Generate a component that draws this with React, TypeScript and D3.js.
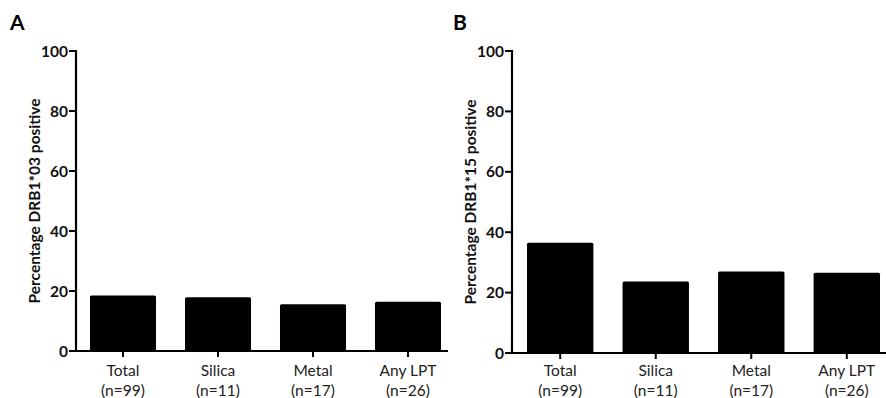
import React from "react";
import * as d3 from "d3";

const categories = ["Total", "Silica", "Metal", "Any LPT"];
const groupSizes = ["(n=99)", "(n=11)", "(n=17)", "(n=26)"];
const drb103Values = [18.5, 17.9, 15.6, 16.4];
const drb115Values = [36.5, 23.7, 27.0, 26.6];
const yTicks = [0, 20, 40, 60, 80, 100];

const FONT = "Lato, 'Open Sans', 'Liberation Sans', sans-serif";

type PanelProps = {
  letter: string;
  letterX: number;
  title: string;
  titleX: number;
  axisX: number;
  axisEnd: number;
  bandRange: [number, number];
  yTop: number;
  yBase: number;
  values: number[];
};

function Panel(p: PanelProps) {
  const y = d3.scaleLinear().domain([0, 100]).range([p.yBase, p.yTop]);
  const x = d3
    .scaleBand<string>()
    .domain(categories)
    .range(p.bandRange)
    .paddingInner(0.305)
    .paddingOuter(0);
  const bw = x.bandwidth();
  const midY = (p.yTop + p.yBase) / 2;

  return (
    <g>
      <text x={p.letterX} y={30} fontFamily={FONT} fontWeight={700} fontSize={21} fill="#000">
        {p.letter}
      </text>
      {categories.map((c, i) => (
        <rect
          key={c}
          x={x(c)!}
          y={y(p.values[i])}
          width={bw}
          height={y(0) - y(p.values[i])}
          fill="#000"
          rx={1.5}
        />
      ))}
      {/* y axis */}
      <line x1={p.axisX} x2={p.axisX} y1={p.yTop - 1} y2={p.yBase + 1} stroke="#000" strokeWidth={2.2} />
      {yTicks.map((t) => (
        <g key={t}>
          <line x1={p.axisX - 7} x2={p.axisX} y1={y(t)} y2={y(t)} stroke="#000" strokeWidth={2} />
          <text
            x={p.axisX - 8}
            y={y(t)}
            dy="0.36em"
            textAnchor="end"
            fontFamily={FONT}
            fontWeight={700}
            fontSize={15.5}
            fill="#111"
          >
            {t}
          </text>
        </g>
      ))}
      {/* x axis */}
      <line x1={p.axisX} x2={p.axisEnd} y1={p.yBase} y2={p.yBase} stroke="#000" strokeWidth={2.2} />
      {categories.map((c, i) => {
        const cx = x(c)! + bw / 2;
        return (
          <g key={c}>
            <line x1={cx} x2={cx} y1={p.yBase} y2={p.yBase + 6} stroke="#000" strokeWidth={2} />
            <text x={cx} y={376} textAnchor="middle" fontFamily={FONT} fontSize={15.5} fill="#222">
              {c}
            </text>
            <text x={cx} y={396} textAnchor="middle" fontFamily={FONT} fontSize={15.5} fill="#222">
              {groupSizes[i]}
            </text>
          </g>
        );
      })}
      <text
        transform={`translate(${p.titleX},${midY}) rotate(-90)`}
        textAnchor="middle"
        dy="0.35em"
        fontFamily={FONT}
        fontWeight={700}
        fontSize={15.5}
        fill="#111"
      >
        {p.title}
      </text>
    </g>
  );
}

export default function App() {
  return (
    <svg
      width={886}
      height={398}
      style={{ position: "absolute", left: 0, top: 0, background: "#fff" }}
    >
      <rect width={886} height={398} fill="#fff" />
      <Panel
        letter="A"
        letterX={10}
        title="Percentage DRB1*03 positive"
        titleX={35}
        axisX={76}
        axisEnd={448}
        bandRange={[90, 441]}
        yTop={51}
        yBase={351}
        values={drb103Values}
      />
      <Panel
        letter="B"
        letterX={453}
        title="Percentage DRB1*15 positive"
        titleX={471}
        axisX={512}
        axisEnd={886}
        bandRange={[527, 880]}
        yTop={51}
        yBase={353}
        values={drb115Values}
      />
    </svg>
  );
}
